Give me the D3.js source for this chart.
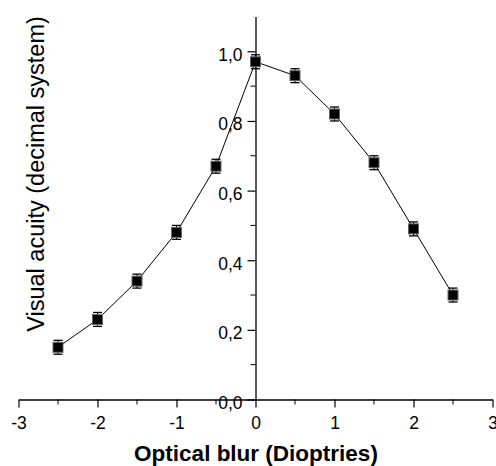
<!DOCTYPE html>
<html>
<head>
<meta charset="utf-8">
<script src="https://cdn.jsdelivr.net/npm/d3@7"></script>
<style>
  body { margin: 0; background: #fff; }
  svg { display: block; font-family: Arial, "Liberation Sans", sans-serif; }
</style>
</head>
<body>
<div id="chart"></div>
<script>
var blur = [-2.5, -2, -1.5, -1, -0.5, 0, 0.5, 1, 1.5, 2, 2.5];
var acuity = [0.15, 0.23, 0.34, 0.48, 0.67, 0.97, 0.93, 0.82, 0.68, 0.49, 0.30];
var errs = [0.02, 0.02, 0.02, 0.02, 0.02, 0.02, 0.02, 0.02, 0.02, 0.02, 0.02];
var xTicks = [-3, -2, -1, 0, 1, 2, 3];
var yTicks = [0, 0.2, 0.4, 0.6, 0.8, 1.0];

var width = 496, height = 466;

var svg = d3.select("#chart").append("svg")
    .attr("width", width)
    .attr("height", height);

var x = d3.scaleLinear().domain([-3, 3]).range([18.5, 492.5]);
var y = d3.scaleLinear().domain([0, 1.1]).range([399.5, 16.5]);

var fmt = function (d) { return d3.format(".1f")(d).replace(".", ","); };

// x axis (major + minor ticks)
var xAxis = svg.append("g")
    .attr("transform", "translate(0," + y(0) + ")");
xAxis.call(d3.axisBottom(x).tickValues(xTicks).tickSize(8).tickSizeOuter(0)
    .tickFormat(function (d) { return d; }));
xAxis.append("g").selectAll("line")
    .data(d3.range(-2.5, 3, 1))
    .enter().append("line")
    .attr("x1", function (d) { return x(d); })
    .attr("x2", function (d) { return x(d); })
    .attr("y1", 0).attr("y2", 5)
    .attr("stroke", "#000");

// y axis drawn at x = 0
var yAxis = svg.append("g")
    .attr("transform", "translate(" + x(0) + ",0)");
yAxis.call(d3.axisLeft(y).tickValues(yTicks).tickSize(8).tickSizeOuter(0)
    .tickFormat(fmt));
yAxis.append("g").selectAll("line")
    .data([0.1, 0.3, 0.5, 0.7, 0.9])
    .enter().append("line")
    .attr("x1", 0).attr("x2", -5)
    .attr("y1", function (d) { return y(d); })
    .attr("y2", function (d) { return y(d); })
    .attr("stroke", "#000");

svg.selectAll(".domain").attr("stroke", "#000").attr("stroke-width", 1.3);
svg.selectAll(".tick line").attr("stroke", "#000").attr("stroke-width", 1.2);
svg.selectAll(".tick text").attr("font-size", 17.5).attr("fill", "#000")
    .attr("font-family", "Arial, 'Liberation Sans', sans-serif");
xAxis.selectAll(".tick text").attr("y", 29).attr("dy", null);
yAxis.selectAll(".tick text").attr("x", -13).attr("dy", 9);

// axis titles
svg.append("text")
    .attr("x", 256)
    .attr("y", 461)
    .attr("text-anchor", "middle")
    .attr("font-size", 22.5)
    .attr("font-weight", "bold")
    .text("Optical blur (Dioptries)");

svg.append("text")
    .attr("transform", "translate(44,174) rotate(-90)")
    .attr("text-anchor", "middle")
    .attr("font-size", 23.5)
    .text("Visual acuity (decimal system)");

var pts = blur.map(function (d, i) { return { x: d, y: acuity[i], e: errs[i] }; });

// connecting line
svg.append("path")
    .datum(pts)
    .attr("fill", "none")
    .attr("stroke", "#000")
    .attr("stroke-width", 1)
    .attr("d", d3.line()
        .x(function (d) { return x(d.x); })
        .y(function (d) { return y(d.y); }));

// error bars
var eb = svg.append("g").selectAll("g")
    .data(pts)
    .enter().append("g");
eb.append("line")
    .attr("x1", function (d) { return x(d.x); })
    .attr("x2", function (d) { return x(d.x); })
    .attr("y1", function (d) { return y(d.y - d.e); })
    .attr("y2", function (d) { return y(d.y + d.e); })
    .attr("stroke", "#000");
eb.selectAll(".cap")
    .data(function (d) { return [{ x: d.x, v: d.y - d.e }, { x: d.x, v: d.y + d.e }]; })
    .enter().append("line")
    .attr("class", "cap")
    .attr("x1", function (d) { return x(d.x) - 4.5; })
    .attr("x2", function (d) { return x(d.x) + 4.5; })
    .attr("y1", function (d) { return y(d.v); })
    .attr("y2", function (d) { return y(d.v); })
    .attr("stroke", "#000")
    .attr("stroke-width", 1.3);

// markers
svg.append("g").selectAll("rect")
    .data(pts)
    .enter().append("rect")
    .attr("x", function (d) { return x(d.x) - 5; })
    .attr("y", function (d) { return y(d.y) - 5; })
    .attr("width", 10)
    .attr("height", 10)
    .attr("fill", "#000")
    .attr("stroke", "#666")
    .attr("stroke-width", 1);
</script>
</body>
</html>
